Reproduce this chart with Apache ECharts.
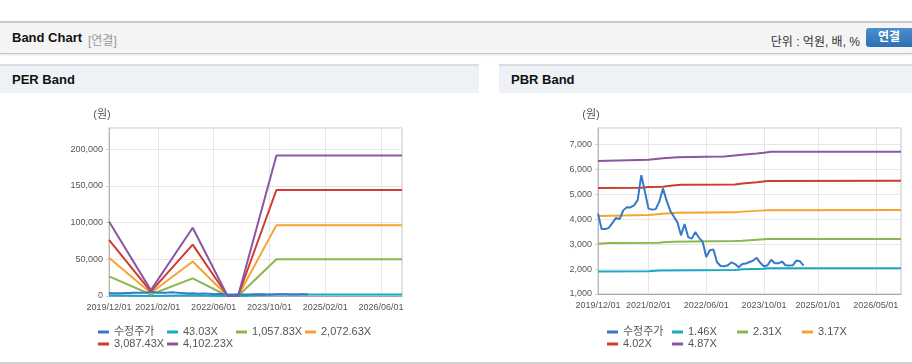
<!DOCTYPE html>
<html>
<head>
<meta charset="utf-8">
<script src="https://cdn.jsdelivr.net/npm/echarts@6/dist/echarts.min.js"></script>
<style>
  body { margin: 0; width: 912px; height: 364px; overflow: hidden; background: #fff;
    font-family: "Liberation Sans", "Noto Sans CJK KR", sans-serif; position: relative; }
  #hdr { position: absolute; left: 0; top: 21px; width: 912px; height: 30px; background: #f4f4f4;
    border-top: 2px solid #c8c8c8; border-bottom: 1px solid #c6c6c6; box-shadow: 0 1px 2px rgba(0,0,0,0.12); }
  #hdr .ttl { position: absolute; left: 12px; top: 7px; font-size: 13px; font-weight: bold; color: #111; }
  #hdr .sub { position: absolute; left: 88px; top: 8px; font-size: 12px; color: #999; }
  #hdr .unit { position: absolute; right: 52px; top: 9px; font-size: 12px; color: #333; }
  #hdr .btn { position: absolute; left: 866px; top: 5px; width: 46px; height: 19px; border-radius: 3px 0 0 3px;
    background: linear-gradient(#4a8fd0, #2f6fb3); color: #fff; font-size: 12px; font-weight: bold;
    text-align: center; line-height: 19px; }
  .ptitle { position: absolute; top: 64px; height: 27px; background: #eef2f7; border-top: 2px solid #d9dde2;
    font-size: 13px; font-weight: bold; color: #111; line-height: 28px; padding-left: 12px; box-sizing: content-box; }
  .chart { position: absolute; top: 92px; height: 270px; }
  #bottomline { position: absolute; left: 0; top: 362px; width: 912px; height: 2px; background: #d4d4d4; }
</style>
</head>
<body>
<div id="hdr">
  <span class="ttl">Band Chart</span><span class="sub">[연결]</span>
  <span class="unit">단위 : 억원, 배, %</span>
  <div class="btn">연결</div>
</div>
<div class="ptitle" style="left:0;width:467px;">PER Band</div>
<div class="ptitle" style="left:499px;width:401px;">PBR Band</div>
<div id="per" class="chart" style="left:0;width:479px;"></div>
<div id="pbr" class="chart" style="left:499px;width:413px;"></div>
<div id="bottomline"></div>
<script>
// monthly categories 2019/12 .. 2026/12
const months = [];
for (let i = 0; i <= 84; i++) {
  const y = 2019 + Math.floor((11 + i) / 12);
  const m = ((11 + i) % 12) + 1;
  months.push(y + "/" + String(m).padStart(2, "0") + "/01");
}
const perLabelIdx = [0, 14, 30, 46, 62, 78];
const pbrLabelIdx = [0, 14, 30, 46, 61, 77];

// 수정주가 (monthly, from 2019/12)
const price = [4220, 3600, 3600, 3650, 3850, 4050, 4000, 4350, 4480, 4470, 4550, 4760, 5760, 5100,
  4420, 4380, 4400, 4700, 5230, 4750, 4350, 4100, 3880, 3350, 3800, 3280, 3220, 3480, 3250, 3100,
  2480, 2750, 2780, 2270, 2120, 2110, 2150, 2270, 2200, 2070, 2200, 2220, 2280, 2340, 2450, 2250,
  2100, 2150, 2370, 2230, 2230, 2300, 2150, 2140, 2150, 2340, 2310, 2140];

// PER bands: [month index, value]
const perNames = ["수정주가", "43.03X", "1,057.83X", "2,072.63X", "3,087.43X", "4,102.23X"];
const per43 = [[0, 1060], [12, 80], [24, 980], [34, 0], [37, 0], [48, 2000], [84, 2000]];
const per1057 = [[0, 26800], [12, 2000], [24, 24000], [34, 0], [37, 0], [48, 50000], [84, 50000]];
const per2072 = [[0, 52000], [12, 4000], [24, 47000], [34, 0], [37, 0], [48, 96600], [84, 96600]];
const per3087 = [[0, 76500], [12, 6000], [24, 70000], [34, 0], [37, 0], [48, 144500], [84, 144500]];
const per4102 = [[0, 101500], [12, 8000], [24, 93000], [34, 0], [37, 0], [48, 191500], [84, 191500]];

// PBR bands
const pbrNames = ["수정주가", "1.46X", "2.31X", "3.17X", "4.02X", "4.87X"];
const pbr146 = [[0, 1900], [14, 1910], [17, 1940], [38, 1960], [40, 1990], [46, 2010], [47, 2030], [84, 2030]];
const pbr231 = [[0, 3010], [3, 3040], [17, 3050], [18, 3070], [21, 3090], [38, 3120], [40, 3130], [44, 3170], [47, 3200], [84, 3200]];
const pbr317 = [[0, 4120], [14, 4160], [18, 4210], [22, 4250], [38, 4270], [40, 4300], [44, 4330], [47, 4360], [84, 4370]];
const pbr402 = [[0, 5250], [12, 5260], [14, 5290], [18, 5300], [20, 5340], [23, 5380], [38, 5390], [40, 5430], [44, 5480], [47, 5530], [84, 5540]];
const pbr487 = [[0, 6330], [14, 6380], [18, 6440], [22, 6480], [30, 6500], [35, 6510], [40, 6580], [44, 6630], [46, 6660], [48, 6700], [84, 6700]];

const colors = ["#3778c8", "#18aac4", "#8cb64f", "#f5a431", "#cf3b30", "#8d56a0"];
const font = '"Liberation Sans", "Noto Sans CJK KR", sans-serif';

function makeOption(names, seriesData, labelIdx, yAxisOpt, gridOpt, legendOpt) {
  const show = (i) => labelIdx.includes(i);
  return {
    animation: false,
    color: colors,
    textStyle: { fontFamily: font },
    grid: Object.assign({ show: true, borderColor: "#c4c4c4", borderWidth: 1 }, gridOpt),
    legend: Object.assign({
      data: names,
      icon: "rect",
      itemWidth: 11,
      itemHeight: 3,
      itemGap: 0,
      padding: 0,
      orient: "horizontal",
    }, legendOpt),
    xAxis: {
      type: "category",
      data: months,
      boundaryGap: false,
      axisLine: { lineStyle: { color: "#a8a8a8" } },
      axisTick: { show: false },
      axisLabel: { interval: (i) => show(i), fontSize: 9, color: "#555", margin: 7, fontFamily: font },
      splitLine: { show: true, interval: (i) => show(i), lineStyle: { color: "#e6e6e6" } },
    },
    yAxis: Object.assign({
      type: "value",
      name: "(원)",
      nameLocation: "end",
      nameGap: 8,
      nameTextStyle: { fontSize: 11, color: "#555", padding: [0, 14, 0, 0] },
      axisLine: { show: true, lineStyle: { color: "#b8b8b8" } },
      axisTick: { show: true, length: 3, lineStyle: { color: "#d0d0d0" } },
      axisLabel: { fontSize: 9, color: "#555", margin: 6, showMaxLabel: false, fontFamily: font,
        formatter: (v) => v.toLocaleString("en-US") },
      splitLine: { lineStyle: { color: "#e6e6e6" } },
    }, yAxisOpt),
    series: seriesData.map((d, i) => ({
      name: names[i],
      type: "line",
      data: d,
      showSymbol: false,
      symbol: "none",
      lineStyle: { width: 2, color: colors[i] },
      itemStyle: { color: colors[i] },
      z: i === 0 ? 3 : 2,
    })),
  };
}

const perChart = echarts.init(document.getElementById("per"));
perChart.setOption(makeOption(
  perNames,
  [price, per43, per1057, per2072, per3087, per4102],
  perLabelIdx,
  { min: 0, max: 229000, interval: 50000 },
  { left: 109, right: 77, top: 36, bottom: 66 },
  { left: 98, top: 234, width: 280, textStyle: { fontSize: 11, color: "#555", lineHeight: 12, width: 53, fontFamily: font } }
));

const pbrChart = echarts.init(document.getElementById("pbr"));
pbrChart.setOption(makeOption(
  pbrNames,
  [price, pbr146, pbr231, pbr317, pbr402, pbr487],
  pbrLabelIdx,
  { min: 1000, max: 7650, interval: 1000 },
  { left: 99, right: 11, top: 36, bottom: 68 },
  { left: 108, top: 234, width: 265, textStyle: { fontSize: 11, color: "#555", lineHeight: 12, width: 49, fontFamily: font } }
));
</script>
</body>
</html>
